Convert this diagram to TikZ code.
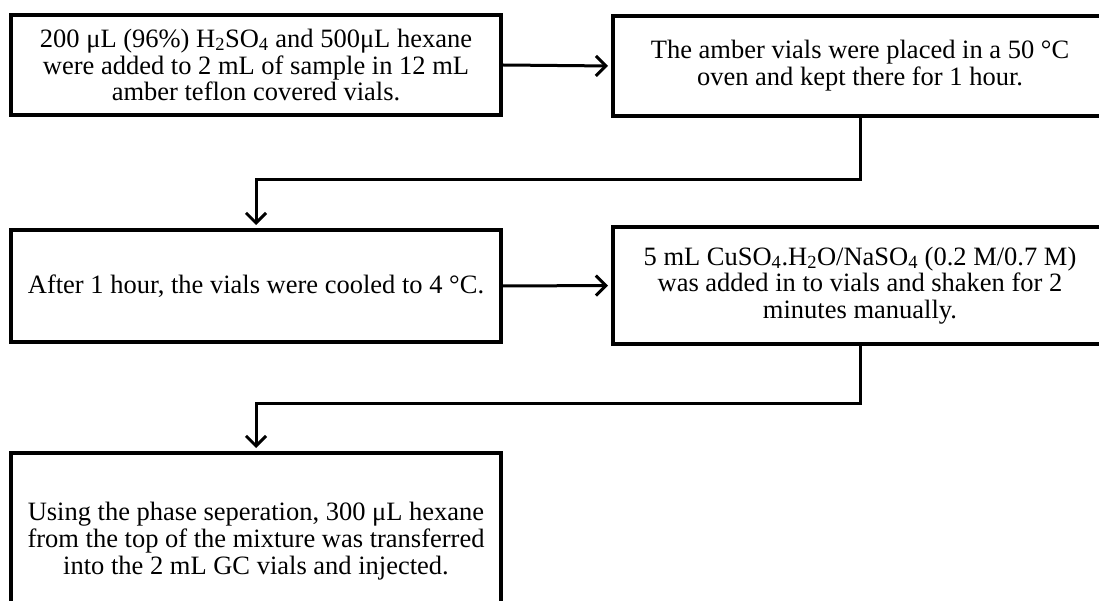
\documentclass[tikz,border=0pt]{standalone}
\usepackage{fontspec}
\setmainfont{Liberation Serif}
\usetikzlibrary{arrows.meta}
\begin{document}
\begin{tikzpicture}[x=1pt,y=-1pt,
  box/.style={draw, line width=4pt, align=center, inner sep=0pt,
    font=\fontsize{26.5}{26.8}\selectfont},
  conn/.style={line width=3pt, shorten >=3pt,
    -{Straight Barb[length=10pt,width=20pt,line width=3pt]}}]
\clip (0,0) rectangle (1099,601);
\fill[white] (0,0) rectangle (1099,601);
\node[box, minimum width=490pt, minimum height=100pt] (b1) at (256,65)
  {200 μL (96\%) H\textsubscript{2}SO\textsubscript{4} and 500μL hexane\\
   were added to 2 mL of sample in 12 mL\\
   amber teflon covered vials.};
\node[box, minimum width=494pt, minimum height=100pt] (b2) at (860,66)
  {The amber vials were placed in a 50 °C\\
   oven and kept there for 1 hour.};
\node[box, minimum width=490pt, minimum height=112pt] (b3) at (256,286)
  {After 1 hour, the vials were cooled to 4 °C.};
\node[box, minimum width=494pt, minimum height=117pt] (b4) at (860,285.5)
  {5 mL CuSO\textsubscript{4}.H\textsubscript{2}O/NaSO\textsubscript{4} (0.2 M/0.7 M)\\
   was added in to vials and shaken for 2\\
   minutes manually.};
\node[box, minimum width=490pt, minimum height=176pt] (b5) at (256,541)
  {Using the phase seperation, 300 μL hexane\\
   from the top of the mixture was transferred\\
   into the 2 mL GC vials and injected.};
\coordinate (j1) at (0,180);
\coordinate (j2) at (0,403);
\draw[conn] (b1.east) -- (b2.west);
\draw[conn] (b3.east) -- (b4.west);
\draw[conn] (b2.south) -- (b2.south |- j1) -| (b3.north);
\draw[conn] (b4.south) -- (b4.south |- j2) -| (b5.north);
\end{tikzpicture}
\end{document}
